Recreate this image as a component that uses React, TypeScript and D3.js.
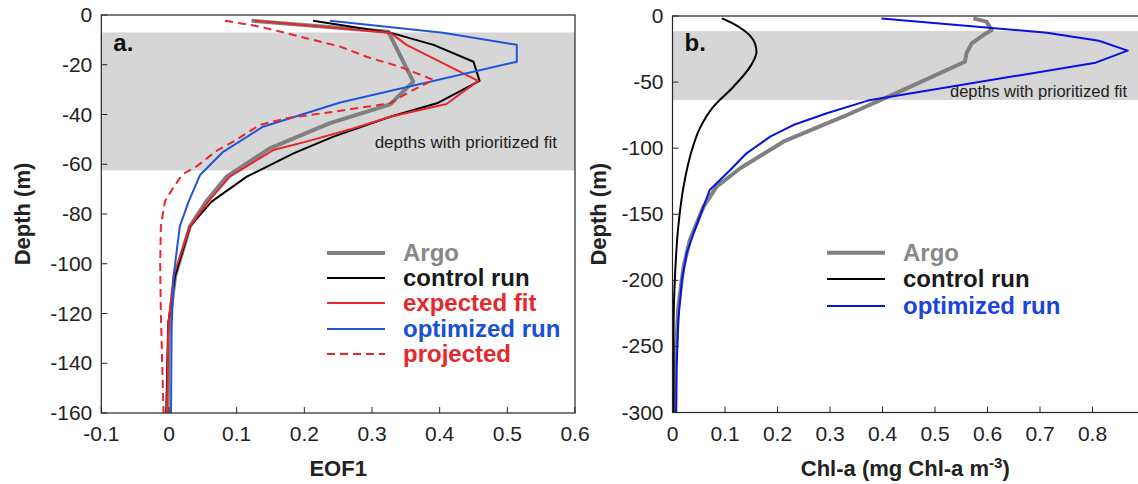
import React from "react";
import * as d3 from "d3";

// ---------- Panel a data (EOF1 vs depth) ----------
const argoADepth = [-2.3, -6.7, -26.8, -35.9, -43.5, -53.6, -65, -75, -85, -105, -125, -160];
const argoAValue = [0.122, 0.324, 0.361, 0.327, 0.238, 0.149, 0.085, 0.055, 0.031, 0.009, 0.0, -0.002];

const controlADepth = [-2.3, -7.1, -12, -18.8, -26.5, -35.5, -40.9, -48.9, -55.6, -65, -75, -85, -105, -124, -160];
const controlAValue = [0.213, 0.327, 0.391, 0.45, 0.459, 0.396, 0.327, 0.243, 0.184, 0.115, 0.063, 0.031, 0.009, -0.001, -0.004];

const expectedADepth = [-2.3, -7.1, -12, -26.5, -35.8, -40.9, -45.6, -50.9, -54.3, -65, -75, -85, -104.5, -125, -160];
const expectedAValue = [0.127, 0.327, 0.351, 0.457, 0.41, 0.327, 0.272, 0.203, 0.154, 0.09, 0.058, 0.031, 0.007, -0.001, -0.003];

const optimizedADepth = [-2.3, -7.1, -12, -18.8, -35.2, -44.9, -55, -64.3, -75, -85, -104.5, -125, -160];
const optimizedAValue = [0.238, 0.405, 0.514, 0.514, 0.253, 0.139, 0.08, 0.046, 0.029, 0.016, 0.007, 0.004, 0.003];

const projectedADepth = [-2.3, -4.7, -8.7, -12.7, -16.8, -20.8, -26.1, -30.8, -35.5, -38.9, -41.5, -44.2, -50.9, -54.3, -61, -64, -70, -75, -85, -100, -120, -160];
const projectedAValue = [0.083, 0.135, 0.194, 0.253, 0.292, 0.341, 0.391, 0.356, 0.327, 0.243, 0.174, 0.134, 0.095, 0.072, 0.04, 0.02, 0.005, -0.006, -0.012, -0.013, -0.012, -0.008];

// ---------- Panel b data (Chl-a vs depth) ----------
const argoBDepth = [-1.8, -4.3, -10.6, -14.4, -20.7, -28.2, -34.6, -55, -76.2, -81.2, -95.1, -115.2, -129.1, -144.3, -169.5, -189.7, -219.9, -265, -300];
const argoBValue = [0.573, 0.598, 0.608, 0.592, 0.57, 0.56, 0.557, 0.445, 0.325, 0.294, 0.211, 0.129, 0.084, 0.059, 0.033, 0.021, 0.011, 0.005, 0.005];

const controlBDepth = [-1.8, -5, -10.6, -15, -20.7, -27, -38.3, -53.5, -68.6, -85, -101.4, -129.1, -159.4, -194.7, -240, -300];
const controlBValue = [0.094, 0.112, 0.135, 0.148, 0.157, 0.16, 0.148, 0.116, 0.078, 0.052, 0.037, 0.021, 0.011, 0.005, 0.002, 0.002];

const optimizedBDepth = [-1.8, -12.6, -18.7, -26.2, -35.3, -64, -73.6, -82.5, -91.3, -103.9, -116.5, -131.6, -144.3, -164.4, -179.5, -199.7, -230, -265, -300];
const optimizedBValue = [0.398, 0.713, 0.812, 0.867, 0.806, 0.372, 0.294, 0.23, 0.186, 0.141, 0.11, 0.071, 0.059, 0.04, 0.027, 0.018, 0.011, 0.008, 0.007];

// ---------- Ticks / labels ----------
const xTicksA = [-0.1, 0, 0.1, 0.2, 0.3, 0.4, 0.5, 0.6];
const yTicksA = [0, -20, -40, -60, -80, -100, -120, -140, -160];
const xTicksB = [0, 0.1, 0.2, 0.3, 0.4, 0.5, 0.6, 0.7, 0.8];
const yTicksB = [0, -50, -100, -150, -200, -250, -300];
const bandA = [-7, -62.5];
const bandB = [-11.4, -63.6];
const legendA = ["Argo", "control run", "expected fit", "optimized run", "projected"];
const legendB = ["Argo", "control run", "optimized run"];

const GRAY = "#808080";
const RED = "#e8262b";
const BLUE_A = "#1f55dc";
const BLUE_B = "#0612e0";
const FONT = "'Liberation Sans', Arial, Helvetica, sans-serif";
const AXIS = "#262626";

type Series = { depth: number[]; value: number[]; color: string; width: number; dash?: string; smooth?: boolean; label: string; textColor: string };

function Panel(props: {
  xDomain: [number, number]; xRange: [number, number];
  yDomain: [number, number]; yRange: [number, number];
  xTicks: number[]; yTicks: number[]; band: number[];
  series: Series[]; legendX: number; legendY: number[];
  tag: string; xTitle: React.ReactNode; yTitleX: number; clipId: string;
  bandTextY: number; bandTextSize: number;
}) {
  const x = d3.scaleLinear().domain(props.xDomain).range(props.xRange);
  const y = d3.scaleLinear().domain(props.yDomain).range(props.yRange);
  const [x0, x1] = props.xRange;
  const [y0, y1] = props.yRange;
  const fmt = (v: number) => (Math.abs(v) < 1e-9 ? "0" : String(+v.toFixed(2)));
  return (
    <g>
      <defs>
        <clipPath id={props.clipId}>
          <rect x={x0} y={y0} width={x1 - x0} height={y1 - y0} />
        </clipPath>
      </defs>
      <rect x={x0} y={y(props.band[0])} width={x1 - x0} height={y(props.band[1]) - y(props.band[0])} fill="#d6d6d6" />
      <text x={x1 - 18} y={props.bandTextY} textAnchor="end" fontFamily={FONT} fontSize={props.bandTextSize} fill="#222">
        depths with prioritized fit
      </text>
      <g clipPath={`url(#${props.clipId})`}>
        {props.series.map((s, i) => {
          const pts = s.depth.map((d, k) => [s.value[k], d] as [number, number]);
          const line = d3
            .line<[number, number]>()
            .x((p) => x(p[0]))
            .y((p) => y(p[1]))
            .curve(s.smooth ? d3.curveMonotoneY : d3.curveLinear);
          return (
            <path key={i} d={line(pts) || ""} fill="none" stroke={s.color} strokeWidth={s.width} strokeDasharray={s.dash} strokeLinejoin="round" />
          );
        })}
      </g>
      <rect x={x0} y={y0} width={x1 - x0} height={y1 - y0} fill="none" stroke={AXIS} strokeWidth={1.2} />
      {props.xTicks.map((t) => (
        <g key={"xt" + t}>
          <line x1={x(t)} x2={x(t)} y1={y1} y2={y1 - 6} stroke={AXIS} />
          <text x={x(t)} y={y1 + 28} textAnchor="middle" fontFamily={FONT} fontSize={21} fill="#222">{fmt(t)}</text>
        </g>
      ))}
      {props.yTicks.map((t) => (
        <g key={"yt" + t}>
          <line x1={x0} x2={x0 + 6} y1={y(t)} y2={y(t)} stroke={AXIS} />
          <text x={x0 - 9} y={y(t) + 7} textAnchor="end" fontFamily={FONT} fontSize={21} fill="#222">{fmt(t)}</text>
        </g>
      ))}
      <text x={x0 + 12} y={51} fontFamily={FONT} fontSize={24} fontWeight="bold" fill="#111">{props.tag}</text>
      <text x={(x0 + Math.min(x1, 1138)) / 2} y={476} textAnchor="middle" fontFamily={FONT} fontSize={22} fontWeight="bold" fill="#222">{props.xTitle}</text>
      <text transform={`translate(${props.yTitleX},${(y0 + y1) / 2}) rotate(-90)`} textAnchor="middle" fontFamily={FONT} fontSize={22} fontWeight="bold" fill="#222">Depth (m)</text>
      {props.series.map((s, i) => (
        <g key={"lg" + i}>
          <line x1={props.legendX} x2={props.legendX + 58} y1={props.legendY[i]} y2={props.legendY[i]} stroke={s.color} strokeWidth={s.width} strokeDasharray={s.dash} />
          <text x={props.legendX + 76} y={props.legendY[i] + 8} fontFamily={FONT} fontSize={24} fontWeight="bold" fill={s.textColor}>{s.label}</text>
        </g>
      ))}
    </g>
  );
}

export default function App() {
  const seriesA: Series[] = [
    { depth: argoADepth, value: argoAValue, color: GRAY, width: 4, label: legendA[0], textColor: "#888" },
    { depth: controlADepth, value: controlAValue, color: "#000", width: 2, label: legendA[1], textColor: "#1a1a1a" },
    { depth: expectedADepth, value: expectedAValue, color: RED, width: 2, label: legendA[2], textColor: RED },
    { depth: optimizedADepth, value: optimizedAValue, color: BLUE_A, width: 2, label: legendA[3], textColor: "#1a4fd8" },
    { depth: projectedADepth, value: projectedAValue, color: RED, width: 2, dash: "8,5", label: legendA[4], textColor: RED },
  ];
  const seriesB: Series[] = [
    { depth: argoBDepth, value: argoBValue, color: GRAY, width: 4, label: legendB[0], textColor: "#888" },
    { depth: controlBDepth, value: controlBValue, color: "#000", width: 2, smooth: true, label: legendB[1], textColor: "#1a1a1a" },
    { depth: optimizedBDepth, value: optimizedBValue, color: BLUE_B, width: 2, label: legendB[2], textColor: "#1a44e0" },
  ];
  return (
    <svg width={1138} height={484} style={{ position: "absolute", left: 0, top: 0, background: "#fff" }}>
      <rect width={1138} height={484} fill="#fff" />
      <Panel
        xDomain={[-0.1, 0.6]} xRange={[101.3, 575]}
        yDomain={[0, -160]} yRange={[15, 413]}
        xTicks={xTicksA} yTicks={yTicksA} band={bandA}
        series={seriesA} legendX={327} legendY={[253, 278, 303, 329, 354]}
        tag="a." xTitle="EOF1" yTitleX={30} clipId="ca"
        bandTextY={148} bandTextSize={17}
      />
      <Panel
        xDomain={[0, 0.9]} xRange={[672.5, 1145]}
        yDomain={[0, -300]} yRange={[16, 412.5]}
        xTicks={xTicksB} yTicks={yTicksB} band={bandB}
        series={seriesB} legendX={827} legendY={[252.7, 279, 306]}
        tag="b." yTitleX={606} clipId="cb"
        bandTextY={97} bandTextSize={16.5}
        xTitle={<>Chl-a (mg Chl-a m<tspan dy={-8} fontSize={15}>-3</tspan><tspan dy={8}>)</tspan></>}
      />
    </svg>
  );
}
